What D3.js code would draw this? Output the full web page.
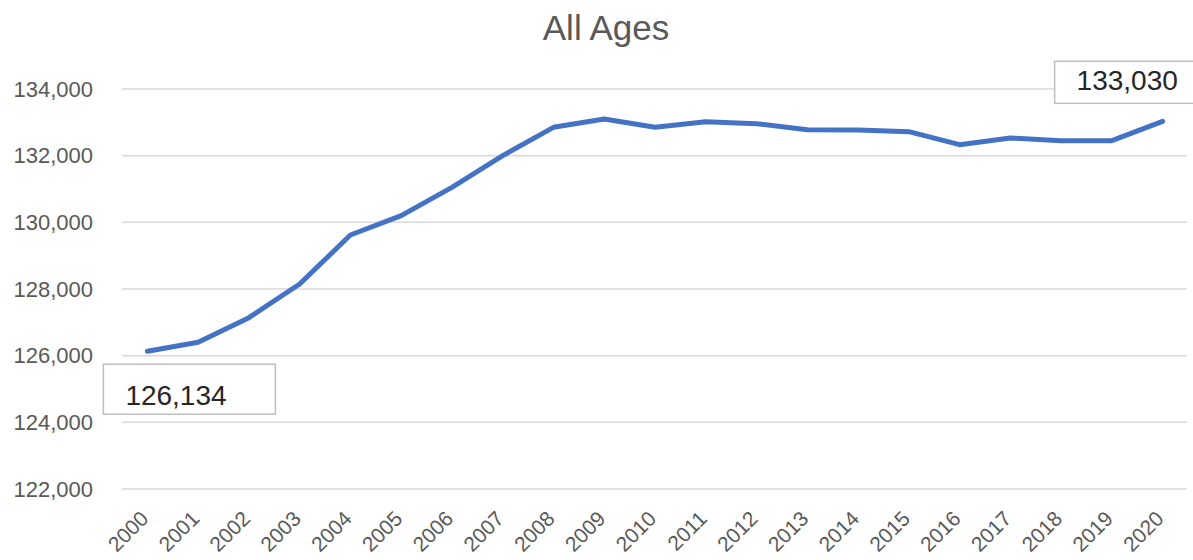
<!DOCTYPE html>
<html><head><meta charset="utf-8">
<script src="https://cdn.jsdelivr.net/npm/d3@7"></script>
<style>
html,body{margin:0;padding:0;background:#fff;}
svg{display:block;font-family:"Liberation Sans",Arial,sans-serif;}
</style></head>
<body><svg id="c" width="1193" height="560"></svg>
<script>
const title = "All Ages";
const years = ["2000","2001","2002","2003","2004","2005","2006","2007","2008","2009","2010",
               "2011","2012","2013","2014","2015","2016","2017","2018","2019","2020"];
const values = [126134,126400,127140,128150,129620,130200,131050,132000,132850,133100,132850,
                133020,132960,132780,132770,132720,132330,132530,132450,132450,133030];
const yTicks = [122000,124000,126000,128000,130000,132000,134000];
const labelled = [{i:0, text:"126,134", dx:-44, dy:13, w:172, h:50, tx:-22, ty:54},
                  {i:20, text:"133,030", dx:-108, dy:-60, w:150, h:42, tx:-86, ty:-31}];

const svg = d3.select("#c");
const x = d3.scalePoint().domain(years).range([122,1188]).padding(0.5);
const y = d3.scaleLinear().domain([122000,134000]).range([489,89]);

svg.append("text").attr("x",606).attr("y",40).attr("text-anchor","middle")
  .attr("font-size",35).attr("fill","#595959").text(title);

// gridlines
svg.append("g").selectAll("line").data(yTicks).join("line")
  .attr("x1",122).attr("x2",1187)
  .attr("y1",d=>y(d)).attr("y2",d=>y(d))
  .attr("stroke","#d9d9d9").attr("stroke-width",1.5);

// y axis labels
const yAxis = d3.axisLeft(y).tickValues(yTicks).tickFormat(d3.format(",")).tickSize(0).tickPadding(0);
const gy = svg.append("g").attr("transform","translate(93,0)").call(yAxis);
gy.select(".domain").remove();
gy.selectAll("text").attr("font-size",22).attr("fill","#595959")
  .attr("font-family","'Liberation Sans',Arial,sans-serif");

// x axis labels
const xAxis = d3.axisBottom(x).tickSize(0).tickPadding(0);
const gx = svg.append("g").attr("transform","translate(0,489)").call(xAxis);
gx.select(".domain").remove();
gx.selectAll("text").attr("font-size",21).attr("fill","#595959")
  .attr("font-family","'Liberation Sans',Arial,sans-serif")
  .attr("text-anchor","end").attr("dy",null).attr("y",null)
  .attr("transform","translate(2,31) rotate(-45)");

// line
const line = d3.line().x((d,i)=>x(years[i])).y(d=>y(d));
svg.append("path").datum(values).attr("d",line)
  .attr("fill","none").attr("stroke","#4472c4").attr("stroke-width",5)
  .attr("stroke-linejoin","round").attr("stroke-linecap","round");

// data labels
labelled.forEach(l=>{
  const px = x(years[l.i]), py = y(values[l.i]);
  svg.append("rect").attr("x",px+l.dx).attr("y",py+l.dy).attr("width",l.w).attr("height",l.h)
    .attr("fill","#fff").attr("stroke","#bfbfbf").attr("stroke-width",1.5);
  svg.append("text").attr("x",px+l.tx).attr("y",py+l.ty).attr("font-size",28)
    .attr("fill","#262626").text(l.text);
});
</script></body></html>
